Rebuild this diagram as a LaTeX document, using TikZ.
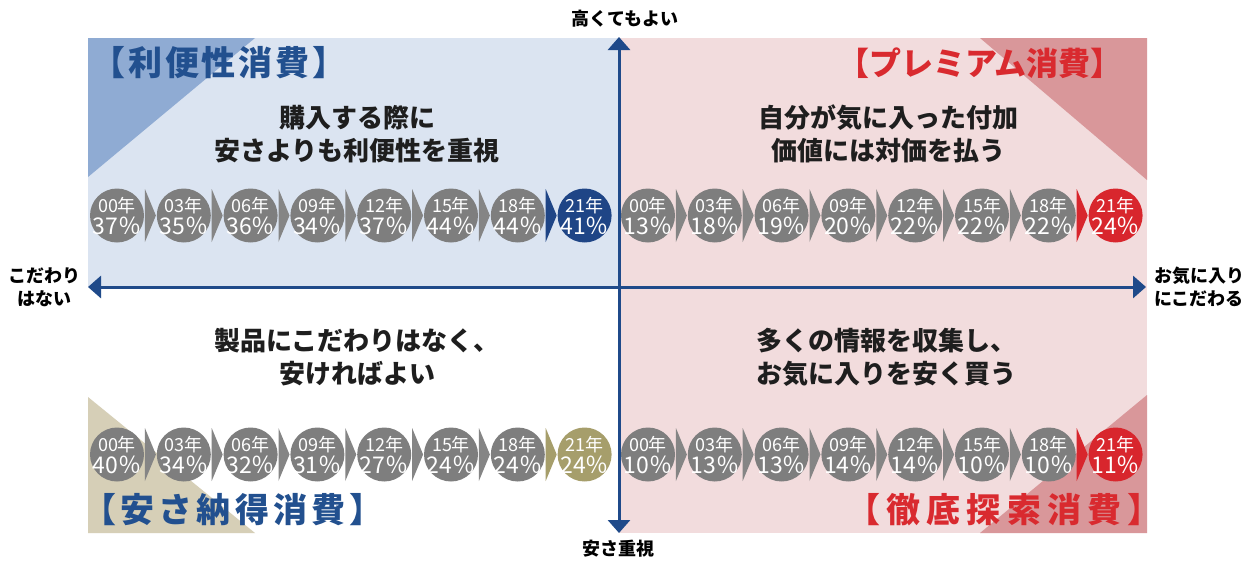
\documentclass[tikz,border=0pt]{standalone}
\usepackage{fontspec}
\setmainfont{Noto Sans CJK JP}
\usetikzlibrary{arrows.meta,calc}
\definecolor{bgblue}{HTML}{DBE4F1}
\definecolor{triblue}{HTML}{8FABD3}
\definecolor{bgpink}{HTML}{F2DCDD}
\definecolor{tripink}{HTML}{D9979A}
\definecolor{tribeige}{HTML}{D6CFB7}
\definecolor{circgray}{HTML}{7E7E7E}
\definecolor{chevgray}{HTML}{858585}
\definecolor{hiblue}{HTML}{1F4586}
\definecolor{hired}{HTML}{D8262D}
\definecolor{hikhaki}{HTML}{A69E6B}
\definecolor{axisblue}{HTML}{1F4A8A}
\definecolor{titleblue}{HTML}{22508F}
\definecolor{titlered}{HTML}{D92A2F}
\definecolor{bodyblack}{HTML}{1E1E1E}
\tikzset{
  circ/.style={circle,minimum size=54pt,inner sep=0pt,draw=none},
  yrtxt/.style={text=white,inner sep=0pt,font=\fontsize{18}{18}\selectfont},
  pcttxt/.style={text=white,inner sep=0pt,font=\fontsize{23}{23}\selectfont},
  axisline/.style={draw=axisblue,line width=3pt,{Triangle[width=22pt,length=13pt]}-{Triangle[width=22pt,length=13pt]}},
  axlbl/.style={text=black,inner sep=0pt,align=center,font=\bfseries\fontsize{18}{23}\selectfont},
  bodytxt/.style={text=bodyblack,inner sep=0pt,align=center,font=\bfseries\fontsize{26}{33}\selectfont},
  titletxt/.style={inner sep=0pt},
}
\newcommand\titlefont[2]{\bfseries\fontsize{#1}{#1}\selectfont\addfontfeatures{LetterSpace=#2}}
\newcommand\quadrow[5]{%
  \foreach \yy/\pp [count=\i from 0] in {#5} {
    \ifnum\i=7 \def\cc{#4}\def\ac{#4}\else\def\cc{circgray}\def\ac{chevgray}\fi
    \node[circ,fill=\cc] (#1\i) at ({#2+66.8*\i},#3) {};
    \node[yrtxt] (#1y\i) at ($(#1\i)+(0,-9.5)$) {\yy{}年};
    \node[pcttxt] (#1p\i) at ($(#1\i)+(0,10)$) {\pp{}％};
    \ifnum\i>0
      \pgfmathtruncatemacro\j{\i-1}
      \coordinate (#1m\i) at ($(#1\j)!0.5!(#1\i)$);
      \fill[\ac] ($(#1m\i)+(-5.5,-26.5)$) -- ($(#1m\i)+(5.5,0)$) -- ($(#1m\i)+(-5.5,26.5)$) -- cycle;
    \fi
  }}
\begin{document}
\begin{tikzpicture}[x=1pt,y=-1pt]
\useasboundingbox (0,0) rectangle (1258,562);
\fill[white] (0,0) rectangle (1258,562);
% quadrant backgrounds
\fill[bgblue] (88,38) rectangle (619,287);
\fill[bgpink] (619,38) rectangle (1147,533);
\fill[triblue] (88,38) -- (255,38) -- (88,177) -- cycle;
\fill[tripink] (980,38) -- (1147,38) -- (1147,180) -- cycle;
\fill[tribeige] (88,397) -- (88,533) -- (255,533) -- cycle;
\fill[tripink] (1147,395) -- (1147,533) -- (980,533) -- cycle;
% axes
\coordinate (axL) at (88,287);
\coordinate (axR) at (1146,287);
\coordinate (axT) at (619,37);
\coordinate (axB) at (619,533);
\draw[axisline] (axL) -- (axR);
\draw[axisline] (axT) -- (axB);
% axis labels
\node[axlbl] (lblT) at (625,19) {高くてもよい};
\node[axlbl] (lblB) at (618,549) {安さ重視};
\node[axlbl] (lblL) at (45,287) {こだわり\\はない};
\node[axlbl] (lblR) at (1199,287) {お気に入り\\にこだわる};
% titles
\node[titletxt,text=titleblue,font=\titlefont{34}{8}] (tTL) at (219,63) {【利便性消費】};
\node[titletxt,text=titlered,font=\titlefont{32}{0}] (tTR) at (980,63) {【プレミアム消費】};
\node[titletxt,text=titleblue,font=\titlefont{34}{12}] (tBL) at (233,510) {【安さ納得消費】};
\node[titletxt,text=titlered,font=\titlefont{34}{18}] (tBR) at (1004,510) {【徹底探索消費】};
% body text
\node[bodytxt] (bTL) at (357,134) {購入する際に\\安さよりも利便性を重視};
\node[bodytxt] (bTR) at (888,134) {自分が気に入った付加\\価値には対価を払う};
\node[bodytxt] (bBL) at (357,357) {製品にこだわりはなく、\\安ければよい};
\node[bodytxt] (bBR) at (886,357) {多くの情報を収集し、\\お気に入りを安く買う};
% circle rows
\quadrow{tl}{117}{215.5}{hiblue}{00/37,03/35,06/36,09/34,12/37,15/44,18/44,21/41}
\quadrow{tr}{648}{215.5}{hired}{00/13,03/18,06/19,09/20,12/22,15/22,18/22,21/24}
\quadrow{bl}{117}{454.5}{hikhaki}{00/40,03/34,06/32,09/31,12/27,15/24,18/24,21/24}
\quadrow{br}{648}{454.5}{hired}{00/10,03/13,06/13,09/14,12/14,15/10,18/10,21/11}
\end{tikzpicture}
\end{document}
